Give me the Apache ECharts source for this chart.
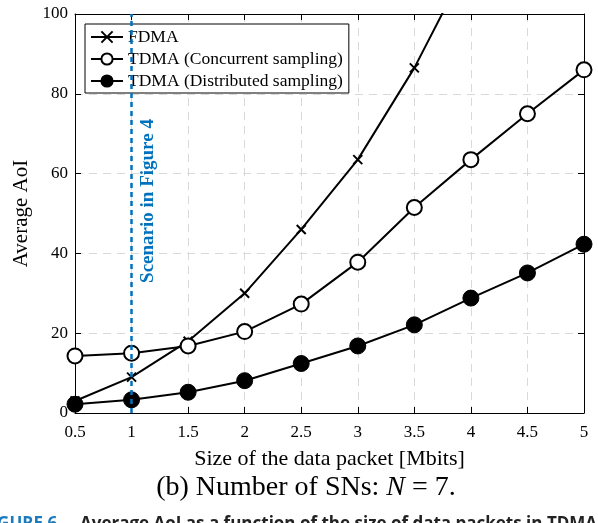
<!DOCTYPE html>
<html>
<head>
<meta charset="utf-8">
<script src="https://cdn.jsdelivr.net/npm/echarts@6/dist/echarts.min.js"></script>
<style>
  html, body { margin: 0; padding: 0; background: #fff; }
  #chart { width: 598px; height: 523px; }
</style>
</head>
<body>
<div id="chart"></div>
<script>
// Packet size (Mbits) on the x axis
const packetSize = [0.5, 1, 1.5, 2, 2.5, 3, 3.5, 4, 4.5, 5];
// Average AoI per scheme
const fdma = [3.0, 9.0, 18.0, 30.0, 46.0, 63.5, 86.5, 114, 146, 182];
const tdmaConcurrent = [14.3, 15.0, 16.8, 20.4, 27.3, 37.8, 51.5, 63.5, 75.0, 86.0];
const tdmaDistributed = [2.2, 3.3, 5.2, 8.1, 12.4, 16.8, 22.1, 28.8, 35.1, 42.3];
const xTicks = [0.5, 1, 1.5, 2, 2.5, 3, 3.5, 4, 4.5, 5];
const yTicks = [0, 20, 40, 60, 80, 100];
// Reference packet size of the Figure 4 scenario
const scenarioX = 1;

const SERIF = '"Liberation Serif", "DejaVu Serif", serif';
const SANS = '"Open Sans", "Noto Sans", sans-serif';
const pair = (xs, ys) => xs.map((x, i) => [x, ys[i]]);
const crossPath = 'path://M0,0L10,10M10,0L0,10';

const chart = echarts.init(document.getElementById('chart'), null, { renderer: 'canvas' });

const gridLine = { show: true, lineStyle: { color: '#d9d9d9', type: [8, 6], width: 1 } };

chart.setOption({
  animation: false,
  backgroundColor: '#fff',
  grid: { left: 75, right: 14, top: 14, bottom: 110, containLabel: false },
  xAxis: [
    {
      type: 'value', min: 0.5, max: 5, interval: 0.5,
      axisLine: { onZero: false, lineStyle: { color: '#000', width: 1 } },
      axisTick: { inside: true, length: 6, lineStyle: { color: '#000' } },
      axisLabel: {
        color: '#000', fontFamily: SERIF, fontSize: 17, margin: 11,
        formatter: v => (xTicks.includes(v) ? String(v) : '')
      },
      splitLine: gridLine,
      name: 'Size of the data packet [Mbits]',
      nameLocation: 'middle', nameGap: 35,
      nameTextStyle: { color: '#000', fontFamily: SERIF, fontSize: 22 }
    },
    {
      type: 'value', min: 0.5, max: 5, interval: 0.5, position: 'top',
      axisLine: { onZero: false, lineStyle: { color: '#000', width: 1 } },
      axisTick: { inside: true, length: 6, lineStyle: { color: '#000' } },
      axisLabel: { show: false }, splitLine: { show: false }
    }
  ],
  yAxis: [
    {
      type: 'value', min: 0, max: 100, interval: 20,
      axisLine: { show: true, onZero: false, lineStyle: { color: '#000', width: 1 } },
      axisTick: { show: true, inside: true, length: 6, lineStyle: { color: '#000' } },
      axisLabel: {
        color: '#000', fontFamily: SERIF, fontSize: 17, margin: 7,
        formatter: v => (yTicks.includes(v) ? String(v) : '')
      },
      splitLine: gridLine,
      name: 'Average AoI',
      nameLocation: 'middle', nameGap: 34,
      nameTextStyle: { color: '#000', fontFamily: SERIF, fontSize: 21 }
    },
    {
      type: 'value', min: 0, max: 100, interval: 20, position: 'right',
      axisLine: { show: true, onZero: false, lineStyle: { color: '#000', width: 1 } },
      axisTick: { show: true, inside: true, length: 6, lineStyle: { color: '#000' } },
      axisLabel: { show: false }, splitLine: { show: false }
    }
  ],
  legend: {
    left: 85, top: 24, orient: 'vertical',
    itemWidth: 32, itemHeight: 14, itemGap: 4,
    padding: [4, 6, 3, 5],
    backgroundColor: '#fff', borderColor: '#000', borderWidth: 1,
    textStyle: { color: '#000', fontFamily: SERIF, fontSize: 17.5 },
    data: ['FDMA', 'TDMA (Concurrent sampling)', 'TDMA (Distributed sampling)']
  },
  series: [
    {
      name: 'FDMA', type: 'line', clip: true, z: 3,
      data: pair(packetSize, fdma),
      symbol: crossPath, symbolSize: 9,
      lineStyle: { color: '#000', width: 2 },
      itemStyle: { color: '#000', borderColor: '#000', borderWidth: 2 }
    },
    {
      name: 'TDMA (Concurrent sampling)', type: 'line', clip: true, z: 3,
      data: pair(packetSize, tdmaConcurrent),
      symbol: 'circle', symbolSize: 15,
      lineStyle: { color: '#000', width: 2 },
      itemStyle: { color: '#fff', borderColor: '#000', borderWidth: 2 }
    },
    {
      name: 'TDMA (Distributed sampling)', type: 'line', clip: true, z: 3,
      data: pair(packetSize, tdmaDistributed),
      symbol: 'circle', symbolSize: 16,
      lineStyle: { color: '#000', width: 2 },
      itemStyle: { color: '#000', borderColor: '#000', borderWidth: 1 },
      markLine: {
        silent: true, symbol: 'none', z: 4,
        label: { show: false },
        lineStyle: { color: '#0072BD', type: [5, 4], width: 2.5 },
        data: [[{ coord: [scenarioX, 0] }, { coord: [scenarioX, 100] }]]
      }
    }
  ],
  graphic: [
    {
      type: 'text', x: 148, y: 201, rotation: Math.PI / 2, z: 10,
      style: {
        text: 'Scenario in Figure 4', fill: '#0072BD',
        font: 'bold 19px ' + SERIF, align: 'center', verticalAlign: 'middle'
      }
    },
    {
      type: 'text', x: 306, y: 488, z: 10,
      style: {
        text: '{n|(b) Number of SNs: }{i|N}{n| = 7.}',
        align: 'center', verticalAlign: 'middle',
        rich: {
          n: { fontFamily: SERIF, fontSize: 28, fill: '#000' },
          i: { fontFamily: SERIF, fontSize: 28, fontStyle: 'italic', fill: '#000' }
        }
      }
    },
    {
      type: 'text', x: 62, y: 516, z: 10,
      style: {
        text: 'FIGURE 6.', align: 'right', verticalAlign: 'top',
        font: 'bold 17px ' + SANS, fill: '#1a7bc1'
      }
    },
    {
      type: 'text', x: 80, y: 516, z: 10,
      style: {
        text: 'Average AoI as a function of the size of data packets in TDMA',
        align: 'left', verticalAlign: 'top',
        font: 'bold 17px ' + SANS, fill: '#222'
      }
    }
  ]
});
</script>
</body>
</html>
